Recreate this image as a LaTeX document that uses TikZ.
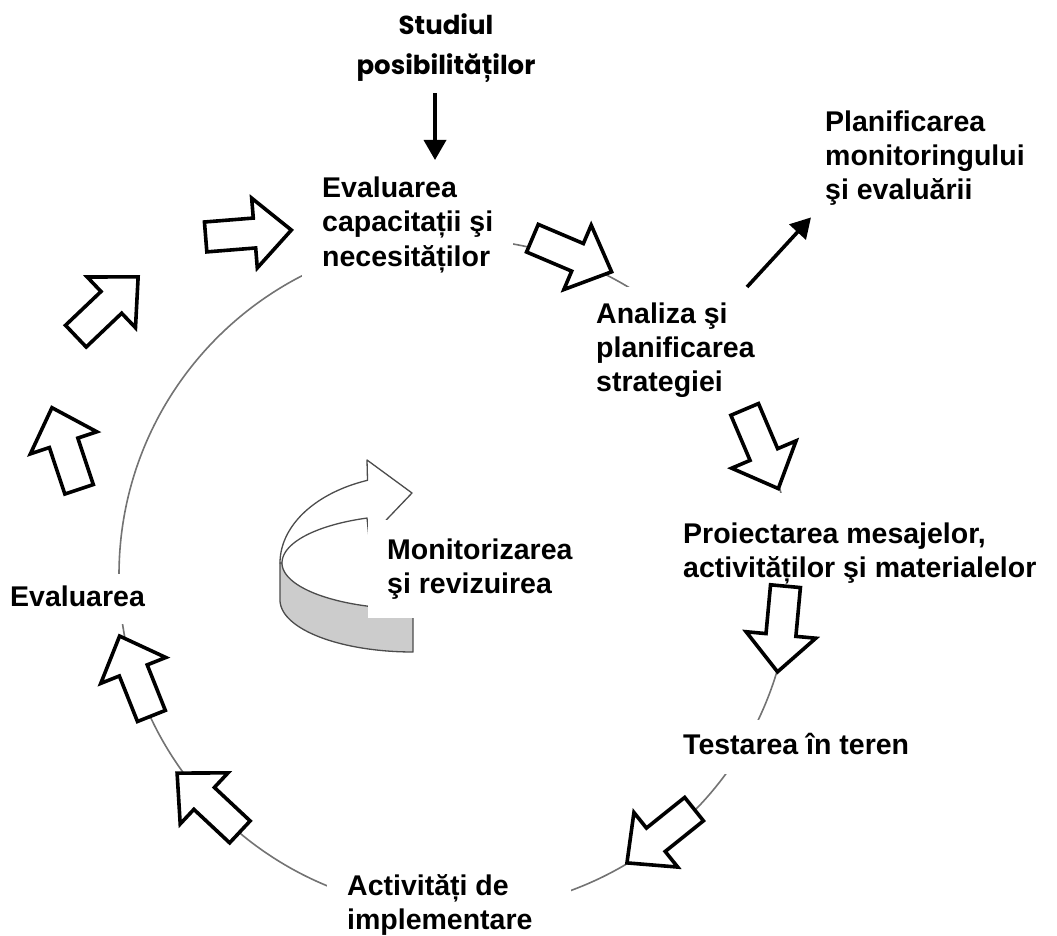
\documentclass[tikz,border=0pt]{standalone}
\usepackage{fontspec}
\setmainfont{Liberation Sans}
\newfontfamily\comicfont{Poppins}
\usetikzlibrary{arrows.meta}
\newcommand{\mlines}[1]{\begin{tabular}[t]{@{}l@{}}#1\end{tabular}}
\newcommand{\mlinesc}[1]{\begin{tabular}[t]{@{}c@{}}#1\end{tabular}}
\tikzset{
  lbl/.style={font=\fontsize{28.5}{34}\selectfont\bfseries, fill=white, anchor=base west, inner xsep=20pt, inner ysep=8pt},
  ringline/.style={draw=black!55, line width=1.6pt},
  barrow/.style={draw=black, fill=white, line width=3.6pt, line join=miter},
  conn/.style={draw=black, line width=3.6pt, -{Triangle[length=20pt,width=22pt]}},
  ribbon/.style={draw=black!70, line width=1.3pt, line join=round},
  blockarrow/.pic={\path[barrow] (-43,-15) -- (6,-15) -- (6,-35) -- (43,0) -- (6,35) -- (6,15) -- (-43,15) -- cycle;}
}
\begin{document}
\begin{tikzpicture}[x=1pt,y=-1pt]
\useasboundingbox (0,0) rectangle (1057,936);

% main cycle circle
\node[circle, ringline, minimum size=672pt, inner sep=0pt] (ring) at (455,575) {};

% 3D curved arrow (monitoring)
\path[ribbon, fill=black!20]
  (413,609) -- plot[domain=90:180, samples=40, variable=\t] ({413+131*cos(\t)},{563+46*sin(\t)})
  -- (280,563) -- (280,600)
  -- plot[domain=180:90, samples=40, variable=\t] ({413+133*cos(\t)},{600+52*sin(\t)}) -- cycle;
\path[ribbon, fill=white]
  plot[domain=180:110, samples=40, variable=\t] ({413+133*cos(\t)},{563-88*sin(\t)})
  -- (367,460) -- (412,493) -- (369,538) -- (367,518)
  -- plot[domain=110.7:180, samples=40, variable=\t] ({413+131*cos(\t)},{563-48*sin(\t)}) -- cycle;

% labels
\node[anchor=base, inner sep=0pt, font=\comicfont\bfseries\fontsize{26}{40}\selectfont] (studiul) at (446,35) {\mlinesc{Studiul\\posibilităților}};
\node[lbl, inner xsep=20pt, inner ysep=6pt] (evalcap) at (302,198) {\mlines{Evaluarea\\capacitații şi\\necesităților}};
\node[lbl, inner xsep=21pt, inner ysep=12pt] (analiza) at (575,323) {\mlines{Analiza şi\\planificarea\\strategiei}};
\node[lbl, inner xsep=14pt, inner ysep=7pt] (planif) at (811,132) {\mlines{Planificarea\\monitoringului\\şi evaluării}};
\node[lbl, inner xsep=20pt, inner ysep=26pt] (proj) at (663,543) {\mlines{Proiectarea mesajelor,\\activităților şi materialelor}};
\node[lbl, inner ysep=10pt] (test) at (663,754) {\mlines{Testarea în teren}};
\node[lbl] (activ) at (327,895) {\mlines{Activități de\\implementare}\hspace*{18pt}};
\node[lbl, inner xsep=10pt, inner ysep=8pt] (evalL) at (0,606) {\mlines{Evaluarea}};
\node[lbl, inner xsep=19pt, inner ysep=15pt] (monit) at (368,559) {\mlines{Monitorizarea\\şi revizuirea}};

% block arrows around the cycle
\pic[rotate=4.6] at (248.5,233.5) {blockarrow};
\pic[rotate=-23] at (572,255) {blockarrow};
\pic[rotate=-67] at (761.5,449) {blockarrow};
\pic[rotate=-95.3] at (781.5,629) {blockarrow};
\pic[rotate=-141.3] at (660.5,836) {blockarrow};
\pic[rotate=136.9] at (208.5,802.5) {blockarrow};
\pic[rotate=111.7] at (135.5,676) {blockarrow};
\pic[rotate=108.4] at (65.5,448.5) {blockarrow};
\pic[rotate=43.6] at (107,306.5) {blockarrow};

% connectors
\draw[conn, shorten <=6pt, shorten >=8pt] ([xshift=-11pt]studiul.south) -- ([xshift=-11pt]studiul.south |- evalcap.north);
\draw[conn] ([xshift=172pt]analiza.north west) -- (planif.south west);
\end{tikzpicture}
\end{document}
